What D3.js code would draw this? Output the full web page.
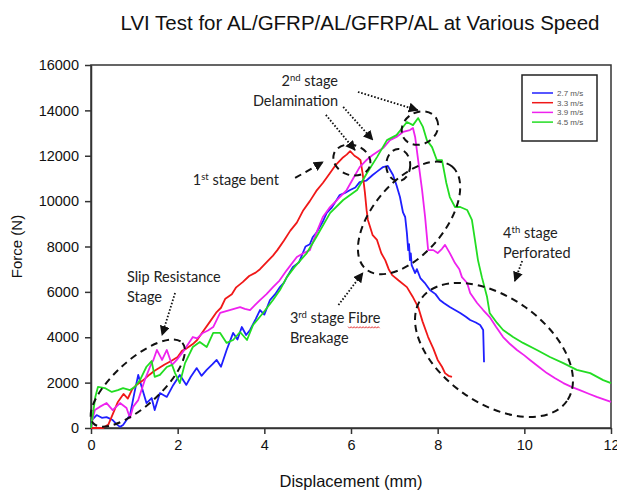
<!DOCTYPE html>
<html>
<head>
<meta charset="utf-8">
<script src="https://cdn.jsdelivr.net/npm/d3@7"></script>
<style>
  body { margin: 0; background: #fff; }
  svg { display: block; }
</style>
</head>
<body>
<svg id="canvas" width="617" height="494"></svg>
<script>
// LVI force / displacement curves (mm, N)
var speeds = ['2.7 m/s', '3.3 m/s', '3.9 m/s', '4.5 m/s']
var colors = ['#1f1fff', '#f01818', '#ee22ee', '#22dd22']

var curve27 = [[0,0],[0.02,350],[0.13,570],[0.25,450],[0.36,480],[0.5,350],[0.6,150],[0.67,50],[0.74,130],[0.9,570],[1.0,1540],[1.09,2340],[1.17,1810],[1.28,1100],[1.4,1320],[1.47,790],[1.59,1540],[1.75,1370],[1.9,1900],[2.05,2340],[2.2,1900],[2.3,2250],[2.44,2640],[2.55,2300],[2.67,2560],[2.8,2800],[2.9,3000],[3.0,2700],[3.13,3440],[3.28,4190],[3.38,3900],[3.48,4450],[3.58,4100],[3.67,4320],[3.8,4800],[3.9,5200],[4.0,5000],[4.13,5640],[4.25,5900],[4.36,6210],[4.45,6400],[4.52,6650],[4.66,7100],[4.8,7300],[4.95,8000],[5.05,8100],[5.12,8420],[5.2,8600],[5.28,8860],[5.35,9100],[5.44,9480],[5.55,9700],[5.65,10000],[5.74,10270],[5.85,10350],[5.98,10490],[6.1,10600],[6.2,10840],[6.35,10900],[6.5,11150],[6.6,11300],[6.74,11500],[6.85,11550],[6.97,11150],[7.05,10700],[7.13,10180],[7.2,9500],[7.25,9300],[7.29,8590],[7.32,7840],[7.34,8100],[7.36,7400],[7.38,7700],[7.4,7180],[7.48,6830],[7.52,7000],[7.6,6610],[7.7,6400],[7.82,6080],[7.95,5900],[8.05,5640],[8.15,5500],[8.28,5330],[8.4,5200],[8.52,5070],[8.65,4900],[8.75,4760],[8.88,4650],[8.98,4540],[9.05,4320],[9.07,2900]]

var curve33 = [[0,0],[0.28,0],[0.4,150],[0.5,600],[0.62,1150],[0.75,1500],[0.85,1300],[0.95,1700],[1.05,1900],[1.2,2100],[1.35,2350],[1.45,2500],[1.57,2640],[1.7,2800],[1.85,2950],[2.0,3130],[2.1,3400],[2.2,3500],[2.35,3700],[2.45,3880],[2.6,4300],[2.75,4700],[2.9,5110],[3.0,5300],[3.1,5700],[3.25,5900],[3.35,6200],[3.5,6430],[3.65,6700],[3.8,6850],[3.9,7000],[4.06,7320],[4.2,7600],[4.3,7840],[4.45,8250],[4.6,8700],[4.75,9050],[4.9,9600],[5.05,10000],[5.2,10450],[5.35,10800],[5.5,11200],[5.65,11600],[5.8,11900],[5.9,12050],[5.98,12200],[6.08,12000],[6.16,11900],[6.22,11800],[6.27,11200],[6.32,10400],[6.36,9600],[6.39,9170],[6.45,8800],[6.5,8500],[6.6,8290],[6.7,7700],[6.79,7400],[6.87,7000],[6.95,6740],[7.1,6500],[7.29,6210],[7.42,5800],[7.55,5330],[7.65,4700],[7.78,4010],[7.9,3500],[8.0,3000],[8.1,2700],[8.17,2420],[8.25,2300],[8.33,2250]]

var curve39 = [[0,0],[0.05,500],[0.09,790],[0.2,930],[0.36,1100],[0.5,790],[0.67,1100],[0.82,880],[0.9,440],[0.97,930],[1.09,1230],[1.24,2110],[1.36,2690],[1.44,3000],[1.52,3440],[1.64,3000],[1.75,3440],[1.87,2780],[1.98,3000],[2.12,3350],[2.35,4010],[2.45,3950],[2.58,4190],[2.7,4300],[2.82,4450],[2.98,5070],[3.2,5200],[3.44,5330],[3.55,5250],[3.67,5200],[3.9,5640],[4.05,5900],[4.2,6210],[4.35,6500],[4.52,6960],[4.75,7540],[4.9,7700],[5.05,7840],[5.2,8600],[5.35,9300],[5.5,9700],[5.68,10050],[5.9,10490],[6.05,11000],[6.2,11500],[6.35,11800],[6.5,12030],[6.74,12340],[6.9,12690],[7.05,12830],[7.2,13050],[7.36,13130],[7.43,13220],[7.48,12830],[7.55,11800],[7.64,10500],[7.71,9300],[7.78,7840],[7.9,7840],[8.0,7710],[8.1,7900],[8.17,8070],[8.28,7710],[8.4,7270],[8.5,7000],[8.56,6650],[8.68,6390],[8.75,5950],[8.91,5510],[9.05,5200],[9.2,4890],[9.35,4450],[9.51,4010],[9.67,3700],[9.83,3440],[10.0,3200],[10.13,3000],[10.33,2700],[10.52,2420],[10.7,2200],[10.9,1980],[11.1,1800],[11.28,1670],[11.5,1500],[11.67,1370],[11.85,1250],[12.0,1150]]

var curve45 = [[0,0],[0.1,1370],[0.16,1810],[0.32,1760],[0.48,1590],[0.62,1670],[0.74,1760],[0.9,1670],[1.01,1810],[1.13,2110],[1.28,2700],[1.4,2950],[1.47,2250],[1.59,2340],[1.75,2690],[1.87,2780],[1.94,2420],[2.05,1980],[2.17,2860],[2.35,3570],[2.51,3790],[2.67,3570],[2.82,4190],[2.98,4190],[3.13,3750],[3.28,3880],[3.44,4230],[3.6,3880],[3.74,4540],[3.97,5070],[4.2,5640],[4.36,6080],[4.52,6650],[4.7,7100],[4.98,7710],[5.2,8420],[5.52,9480],[5.82,10050],[6.14,10490],[6.37,11240],[6.6,11940],[6.83,12690],[7.05,12910],[7.2,13270],[7.29,13490],[7.43,13350],[7.55,13660],[7.66,13270],[7.75,12690],[7.87,12380],[7.98,11810],[8.1,11810],[8.2,10800],[8.28,10180],[8.4,9740],[8.52,9740],[8.68,9610],[8.79,9170],[8.86,8290],[8.93,7400],[9.02,6650],[9.14,5770],[9.2,5070],[9.37,4630],[9.51,4320],[9.74,4010],[9.97,3750],[10.29,3440],[10.59,3130],[10.9,2860],[11.21,2560],[11.52,2420],[11.82,2110],[12.0,1980]]

var curves = [curve27, curve33, curve39, curve45]
var xTicks = [0, 2, 4, 6, 8, 10, 12]
var yTicks = [0, 2000, 4000, 6000, 8000, 10000, 12000, 14000, 16000]

// stage annotations, anchored in data units (mm, N)
var ellipses = [
  { x: 1.08, y: 1980, rx: 60, ry: 23, rot: -42 },
  { x: 6.02, y: 11810, rx: 19, ry: 15, rot: 20 },
  { x: 7.09, y: 11590, rx: 12, ry: 16, rot: 0 },
  { x: 7.59, y: 13220, rx: 19, ry: 16, rot: -30 },
  { x: 7.34, y: 9260, rx: 67, ry: 36, rot: -50 },
  { x: 9.30, y: 3440, rx: 89, ry: 53, rot: 35 }
]
var arrows = [
  { from: [1.94, 5950], to: [1.64, 4100], dash: 'dot' },
  { from: [4.71, 11020], to: [5.35, 11720], dash: 'dash' },
  { from: [5.42, 13800], to: [6.09, 12250], dash: 'dot' },
  { from: [5.82, 14150], to: [6.5, 12700], dash: 'dot' },
  { from: [6.16, 14810], to: [7.54, 14010], dash: 'dot' },
  { from: [5.71, 5420], to: [6.27, 6830], dash: 'dot' },
  { from: [9.95, 7360], to: [9.78, 6480], dash: 'dot' }
]
var labels = [
  { x: 0.83, y: 6435, lines: [['Slip Resistance'], ['Stage']] },
  { x: 2.35, y: 10710, lines: [['1', 'st', ' stage bent']] },
  { x: 5.70, y: 15070, anchor: 'end', lines: [['2', 'nd', ' stage'], ['Delamination']] },
  { x: 4.59, y: 4630, lines: [['3', 'rd', ' stage Fibre'], ['Breakage']] },
  { x: 9.51, y: 8370, lines: [['4', 'th', ' stage'], ['Perforated']] }
]

var svg = d3.select('#canvas')
var plotL = 91, plotR = 611, plotT = 65, plotB = 428
var x = d3.scaleLinear().domain([0, 12]).range([plotL, plotR])
var y = d3.scaleLinear().domain([0, 16000]).range([plotB, plotT])
var axisFont = 'Liberation Sans, Arial, sans-serif'
var noteFont = 'Lato, Carlito, Open Sans, sans-serif'

// title
svg.append('text')
  .attr('x', 360).attr('y', 30)
  .attr('text-anchor', 'middle')
  .style('font-family', axisFont).style('font-size', '20.5px')
  .attr('fill', '#111')
  .text('LVI Test for AL/GFRP/AL/GFRP/AL at Various Speed')

// frame
svg.append('rect')
  .attr('x', plotL).attr('y', plotT)
  .attr('width', plotR - plotL).attr('height', plotB - plotT)
  .attr('fill', 'none').attr('stroke', '#333').attr('stroke-width', 1.5)

// axes
var xAxis = svg.append('g')
  .attr('transform', 'translate(0,' + plotB + ')')
  .call(d3.axisBottom(x).tickValues(xTicks).tickSizeInner(6).tickSizeOuter(0).tickPadding(6))
var yAxis = svg.append('g')
  .attr('transform', 'translate(' + plotL + ',0)')
  .call(d3.axisLeft(y).tickValues(yTicks).tickFormat(d3.format('d')).tickSizeInner(6).tickSizeOuter(0).tickPadding(6))
;[xAxis, yAxis].forEach(function(g) {
  g.select('.domain').attr('stroke', '#333').attr('stroke-width', 1.5)
  g.selectAll('.tick line').attr('stroke', '#333').attr('stroke-width', 1.5)
  g.selectAll('.tick text')
    .attr('fill', '#111')
    .style('font-family', axisFont).style('font-size', '14.5px')
})

svg.append('text')
  .attr('x', (plotL + plotR) / 2).attr('y', 487)
  .attr('text-anchor', 'middle')
  .style('font-family', axisFont).style('font-size', '16.5px')
  .attr('fill', '#111')
  .text('Displacement (mm)')
svg.append('text')
  .attr('transform', 'translate(22,' + ((plotT + plotB) / 2) + ') rotate(-90)')
  .attr('text-anchor', 'middle')
  .style('font-family', axisFont).style('font-size', '15px')
  .attr('fill', '#111')
  .text('Force (N)')

// curves
var line = d3.line().x(function(d) { return x(d[0]) }).y(function(d) { return y(d[1]) })
svg.append('g').selectAll('path')
  .data(curves)
  .enter()
  .append('path')
  .attr('d', line)
  .attr('fill', 'none')
  .attr('stroke', function(d, i) { return colors[i] })
  .attr('stroke-width', 1.8)
  .attr('stroke-linejoin', 'round')

// legend
var legend = svg.append('g').attr('transform', 'translate(522,75)')
legend.append('rect')
  .attr('width', 75).attr('height', 66)
  .attr('fill', '#fff').attr('stroke', '#222').attr('stroke-width', 1.5)
speeds.forEach(function(s, i) {
  legend.append('line')
    .attr('x1', 10).attr('x2', 31)
    .attr('y1', 18 + i * 9.7).attr('y2', 18 + i * 9.7)
    .attr('stroke', colors[i]).attr('stroke-width', 1.5)
  legend.append('text')
    .attr('x', 35).attr('y', 21 + i * 9.7)
    .style('font-family', axisFont).style('font-size', '8px')
    .attr('fill', '#555')
    .text(s)
})

// annotations
var notes = svg.append('g')
svg.append('defs').append('marker')
  .attr('id', 'head')
  .attr('viewBox', '0 0 10 10')
  .attr('refX', 9).attr('refY', 5)
  .attr('markerUnits', 'userSpaceOnUse')
  .attr('markerWidth', 10).attr('markerHeight', 10)
  .attr('orient', 'auto')
  .append('path').attr('d', 'M0,0L10,5L0,10z').attr('fill', '#111')

notes.selectAll('ellipse')
  .data(ellipses)
  .enter()
  .append('ellipse')
  .attr('transform', function(d) { return 'translate(' + x(d.x) + ',' + y(d.y) + ') rotate(' + d.rot + ')' })
  .attr('rx', function(d) { return d.rx })
  .attr('ry', function(d) { return d.ry })
  .attr('fill', 'none').attr('stroke', '#111').attr('stroke-width', 2)
  .attr('stroke-dasharray', '7,5')

notes.selectAll('.arrow')
  .data(arrows)
  .enter()
  .append('line')
  .attr('class', 'arrow')
  .attr('x1', function(d) { return x(d.from[0]) })
  .attr('y1', function(d) { return y(d.from[1]) })
  .attr('x2', function(d) { return x(d.to[0]) })
  .attr('y2', function(d) { return y(d.to[1]) })
  .attr('stroke', '#111')
  .attr('stroke-width', function(d) { return d.dash === 'dot' ? 1.8 : 2 })
  .attr('stroke-dasharray', function(d) { return d.dash === 'dot' ? '1.6,1.8' : '7,5' })
  .attr('marker-end', 'url(#head)')

labels.forEach(function(l) {
  l.lines.forEach(function(parts, k) {
    var t = notes.append('text')
      .attr('x', x(l.x)).attr('y', y(l.y) + k * 20)
      .attr('text-anchor', l.anchor || 'start')
      .style('font-family', noteFont).style('font-size', '14.5px')
      .attr('fill', '#222')
    t.append('tspan').text(parts[0])
    if (parts.length > 1) {
      t.append('tspan').attr('dy', -5).style('font-size', '9.5px').text(parts[1])
      t.append('tspan').attr('dy', 5).text(parts[2])
    }
    // spell-check squiggle under "Fibre"
    var full = parts.join('')
    var idx = full.indexOf('Fibre')
    if (idx >= 0) {
      var node = t.node()
      var x0 = node.getStartPositionOfChar(idx).x
      var x1 = node.getEndPositionOfChar(idx + 4).x
      var yy = y(l.y) + k * 20 + 4
      var pts = []
      for (var px = x0, j = 0; px <= x1; px += 1.5, j++) pts.push([px, yy + (j % 2 ? 1.2 : -0.3)])
      notes.append('path')
        .attr('d', d3.line()(pts))
        .attr('fill', 'none').attr('stroke', '#e02020').attr('stroke-width', 0.9)
    }
  })
})
</script>
</body>
</html>
